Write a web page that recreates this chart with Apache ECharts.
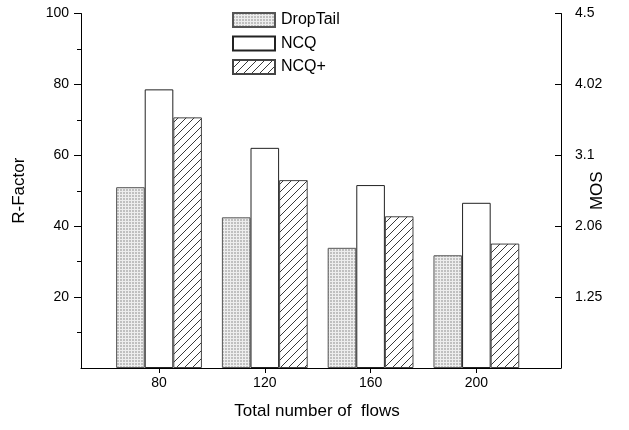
<!DOCTYPE html>
<html><head><meta charset="utf-8">
<script src="https://cdn.jsdelivr.net/npm/echarts@6/dist/echarts.min.js"></script>
<style>html,body{margin:0;padding:0;background:#fff}#c{width:629px;height:430px}</style>
</head><body><div id="c"></div>
<script>
var categories = [80, 120, 160, 200];
var dropTail = [51.0, 42.5, 33.9, 31.8];
var ncq = [78.6, 62.1, 51.6, 46.6];
var ncqPlus = [70.7, 53.0, 42.8, 35.1];
var rTicks = [20, 40, 60, 80, 100];
var rMinorTicks = [10, 30, 50, 70, 90];
var mosLabels = ['1.25', '2.06', '3.1', '4.02', '4.5'];

function gridPattern() {
  var c = document.createElement('canvas'); c.width = 3; c.height = 3;
  var g = c.getContext('2d');
  g.fillStyle = '#c0c0c0'; g.fillRect(0, 0, 3, 3);
  g.fillStyle = '#eeeeee'; g.fillRect(2, 0, 1, 3); g.fillRect(0, 2, 3, 1);
  return c;
}
function hatchPattern() {
  var s = 8;
  var c = document.createElement('canvas'); c.width = s; c.height = s;
  var g = c.getContext('2d');
  g.fillStyle = '#fff'; g.fillRect(0, 0, s, s);
  g.strokeStyle = '#222'; g.lineWidth = 0.9;
  g.beginPath();
  g.moveTo(0, s); g.lineTo(s, 0);
  g.moveTo(-1, 1); g.lineTo(1, -1);
  g.moveTo(s - 1, s + 1); g.lineTo(s + 1, s - 1);
  g.stroke();
  return c;
}
function pairs(arr) { return categories.map(function (c, i) { return [c, arr[i]]; }); }

var font = 'Liberation Sans, Arial, sans-serif';
var chart = echarts.init(document.getElementById('c'), null, {renderer: 'canvas'});
chart.setOption({
  animation: false,
  grid: {left: 81, right: 68, top: 13.5, bottom: 62, containLabel: false, outerBoundsMode: 'none'},
  legend: {
    orient: 'vertical', left: 232, top: 12, padding: 0, icon: 'rect',
    itemWidth: 42, itemHeight: 14, itemGap: 7.5,
    textStyle: {fontFamily: font, fontSize: 16, color: '#000', padding: [0, 0, 0, 1]},
    data: ['DropTail', 'NCQ', 'NCQ+']
  },
  xAxis: {
    type: 'value', min: 50.5, max: 232,
    name: 'Total number of  flows', nameLocation: 'middle', nameGap: 35,
    nameMoveOverlap: false,
    nameTextStyle: {fontFamily: font, fontSize: 17, color: '#000', padding: [0, 8, 0, 0]},
    axisLine: {show: true, lineStyle: {color: '#000', width: 1}},
    axisTick: {show: true, length: 5, customValues: categories, lineStyle: {color: '#000'}},
    axisLabel: {customValues: categories, margin: 8, fontFamily: font, fontSize: 14, color: '#000'},
    splitLine: {show: false}
  },
  yAxis: [{
    type: 'value', min: 0, max: 100, position: 'left',
    name: 'R-Factor', nameLocation: 'middle', nameGap: 53, nameRotate: 90, nameMoveOverlap: false,
    nameTextStyle: {fontFamily: font, fontSize: 17, color: '#000'},
    axisLine: {show: true, lineStyle: {color: '#000', width: 1}},
    axisTick: {show: true, length: 7, customValues: rTicks, lineStyle: {color: '#000'}},
    axisLabel: {customValues: rTicks, margin: 12, fontFamily: font, fontSize: 14, color: '#000'},
    splitLine: {show: false}
  }, {
    type: 'value', min: 0, max: 100, position: 'right',
    name: 'MOS', nameLocation: 'middle', nameGap: 28, nameRotate: 90, nameMoveOverlap: false,
    nameTextStyle: {fontFamily: font, fontSize: 17, color: '#000'},
    axisLine: {show: true, lineStyle: {color: '#000', width: 1}},
    axisTick: {show: true, inside: true, length: 6, customValues: rTicks, lineStyle: {color: '#000'}},
    axisLabel: {customValues: rTicks, margin: 14, fontFamily: font, fontSize: 14, color: '#000',
      formatter: function (v) { var i = rTicks.indexOf(v); return i >= 0 ? mosLabels[i] : ''; }},
    splitLine: {show: false}
  }, {
    type: 'value', min: 0, max: 100, position: 'left',
    axisLine: {show: false},
    axisTick: {show: true, length: 4, customValues: rMinorTicks, lineStyle: {color: '#000'}},
    axisLabel: {show: false},
    splitLine: {show: false}
  }],
  series: [{
    name: 'DropTail', type: 'bar', barWidth: 28.6, barGap: '0%', yAxisIndex: 0,
    itemStyle: {color: {image: gridPattern(), repeat: 'repeat'}, borderColor: '#555', borderWidth: 1},
    data: pairs(dropTail)
  }, {
    name: 'NCQ', type: 'bar', barWidth: 28.6, barGap: '0%', yAxisIndex: 0,
    itemStyle: {color: '#fff', borderColor: '#222', borderWidth: 1},
    data: pairs(ncq)
  }, {
    name: 'NCQ+', type: 'bar', barWidth: 28.6, barGap: '0%', yAxisIndex: 0,
    itemStyle: {color: {image: hatchPattern(), repeat: 'repeat'}, borderColor: '#444', borderWidth: 1},
    data: pairs(ncqPlus)
  }]
});
</script></body></html>
